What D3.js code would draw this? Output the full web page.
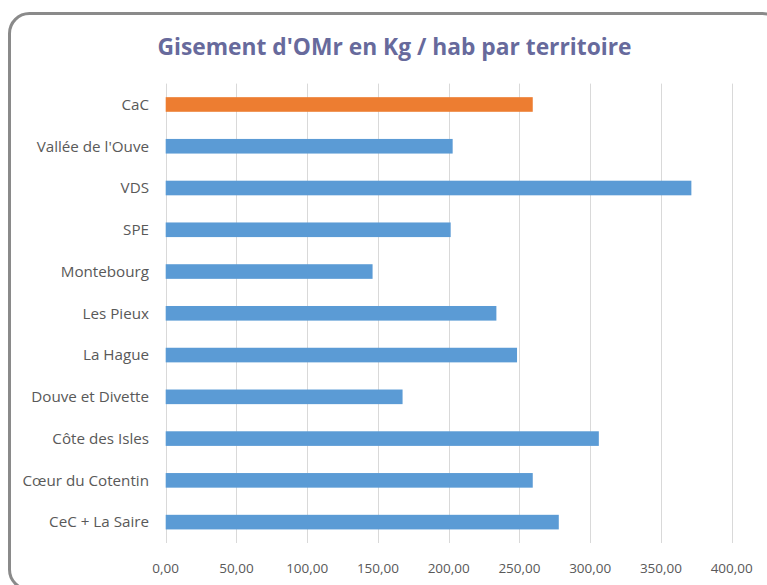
<!DOCTYPE html>
<html lang="fr">
	<head>
		<meta charset="utf-8" />
		<title>Gisement d'OMr en Kg / hab par territoire</title>
		<style>
			body { margin: 0; background: #fff; }
			svg { display: block; }
			text { font-family: "Open Sans", "DejaVu Sans", sans-serif; }
		</style>
	</head>
	<body>
		<div id="chart"></div>

		<script src="https://cdn.jsdelivr.net/npm/d3@7"></script>
		<script>
			// Territories, top to bottom
			var territoires = ["CaC", "Vallée de l'Ouve", "VDS", "SPE", "Montebourg", "Les Pieux",
				"La Hague", "Douve et Divette", "Côte des Isles", "Cœur du Cotentin", "CeC + La Saire"];
			// Kg / hab
			var gisement = [259.4, 202.8, 371.5, 201.4, 146.2, 233.7, 248.3, 167.4, 306.1, 259.4, 277.8];
			var ticks = [0, 50, 100, 150, 200, 250, 300, 350, 400];
			var highlighted = ["CaC"];

			var width = 767, height = 585;
			// plot area (note: "top" is taken by window.top, so prefixed names)
			var plotLeft = 165.7, plotRight = 731.7, plotTop = 83.6, plotBottom = 543;

			var svg = d3.select("#chart").append("svg")
				.attr("width", width)
				.attr("height", height);

			// Chart frame (runs past the right and bottom edges)
			svg.append("rect")
				.attr("x", 9.5).attr("y", 13.5)
				.attr("width", 773).attr("height", 576)
				.attr("rx", 20).attr("ry", 20)
				.attr("fill", "#fff")
				.attr("stroke", "#8a8a8a")
				.attr("stroke-width", 3);

			svg.append("text")
				.attr("x", 394.5).attr("y", 55)
				.attr("text-anchor", "middle")
				.attr("font-size", 23)
				.attr("font-weight", 700)
				.attr("fill", "#676a9c")
				.attr("textLength", 474)
				.attr("lengthAdjust", "spacingAndGlyphs")
				.text("Gisement d'OMr en Kg / hab par territoire");

			var x = d3.scaleLinear().domain([0, 400]).range([plotLeft, plotRight]);
			var y = d3.scaleBand().domain(territoires).range([plotTop, plotBottom]).paddingInner(0.65).paddingOuter(0.325);

			// Vertical gridlines
			svg.append("g")
				.selectAll("line")
				.data(ticks)
				.enter()
				.append("line")
				.attr("x1", function(d) { return Math.round(x(d)) + 0.5; })
				.attr("x2", function(d) { return Math.round(x(d)) + 0.5; })
				.attr("y1", plotTop)
				.attr("y2", plotBottom)
				.attr("stroke", "#d9d9d9")
				.attr("stroke-width", 1);

			// Bars
			svg.append("g")
				.selectAll("rect")
				.data(territoires)
				.enter()
				.append("rect")
				.attr("x", x(0))
				.attr("y", function(d) { return y(d); })
				.attr("width", function(d, i) { return x(gisement[i]) - x(0); })
				.attr("height", y.bandwidth())
				.attr("fill", function(d) { return highlighted.indexOf(d) >= 0 ? "#ed7d31" : "#5b9bd5"; });

			// Category labels
			svg.append("g")
				.selectAll("text")
				.data(territoires)
				.enter()
				.append("text")
				.attr("x", 149)
				.attr("y", function(d) { return y(d) + y.bandwidth() / 2; })
				.attr("dy", "0.35em")
				.attr("text-anchor", "end")
				.attr("font-size", 15.2)
				.attr("fill", "#595959")
				.text(function(d) { return d; });

			// Value axis labels (French decimal comma)
			var fmt = d3.formatLocale({ decimal: ",", thousands: "\u00a0", grouping: [3], currency: ["", " €"] }).format(".2f");
			svg.append("g")
				.selectAll("text")
				.data(ticks)
				.enter()
				.append("text")
				.attr("x", function(d) { return x(d); })
				.attr("y", 573)
				.attr("text-anchor", "middle")
				.attr("font-size", 13.5)
				.attr("fill", "#595959")
				.text(function(d) { return fmt(d); });
		</script>
	</body>
</html>
